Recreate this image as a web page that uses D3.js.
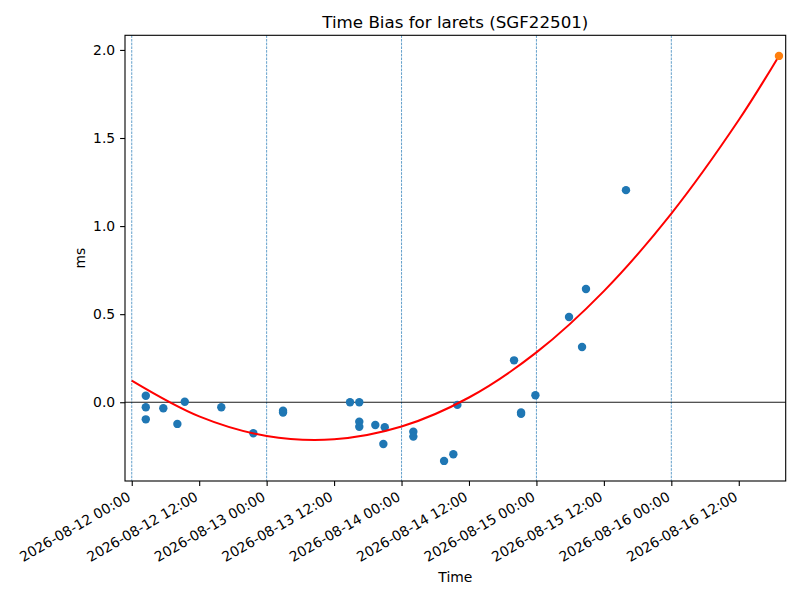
<!DOCTYPE html>
<html>
<head>
<meta charset="utf-8">
<script src="https://cdn.jsdelivr.net/npm/d3@7"></script>
<style>
  body { margin: 0; background: #fff; }
  text { font-family: "DejaVu Sans", sans-serif; fill: #000; }
</style>
</head>
<body>
<div id="container"></div>
<script>
// Measured time bias samples (UTC) and values in ms
const sampleTimes = [
    '2026-08-12 02:30', '2026-08-12 02:30', '2026-08-12 02:30',
    '2026-08-12 05:37', '2026-08-12 08:07', '2026-08-12 09:26',
    '2026-08-12 15:56', '2026-08-12 21:38', '2026-08-13 02:55',
    '2026-08-13 02:55', '2026-08-13 14:50', '2026-08-13 16:29',
    '2026-08-13 16:29', '2026-08-13 16:29', '2026-08-13 19:20',
    '2026-08-13 21:01', '2026-08-13 20:46', '2026-08-14 02:06',
    '2026-08-14 02:06', '2026-08-14 07:34', '2026-08-14 09:13',
    '2026-08-14 09:56', '2026-08-14 20:01', '2026-08-14 21:16',
    '2026-08-14 21:16', '2026-08-14 23:49', '2026-08-15 05:48',
    '2026-08-15 08:07', '2026-08-15 08:49', '2026-08-15 15:56'
];
const sampleValues = [
    0.037, -0.028, -0.097,
    -0.034, -0.123, 0.003,
    -0.028, -0.176, -0.048,
    -0.058, 0.000, 0.000,
    -0.110, -0.139, -0.129,
    -0.142, -0.237, -0.167,
    -0.195, -0.333, -0.295,
    -0.015, 0.238, -0.058,
    -0.066, 0.040, 0.484,
    0.314, 0.643, 1.204
];

// Fitted curve
const fitTimes = [
    '2026-08-12 00:00', '2026-08-12 12:00', '2026-08-13 00:00',
    '2026-08-13 12:00', '2026-08-14 00:00', '2026-08-14 12:00',
    '2026-08-15 00:00', '2026-08-15 12:00', '2026-08-16 00:00',
    '2026-08-16 12:00', '2026-08-16 19:09'
];
const fitValues = [0.123, -0.080, -0.191, -0.210, -0.138, 0.027, 0.283, 0.631, 1.071, 1.602, 1.966];

// Predicted point at the end of the fit
const predTime = '2026-08-16 19:09';
const predValue = 1.966;

// Midnight markers and tick labels
const dayLines = ['2026-08-12 00:00', '2026-08-13 00:00', '2026-08-14 00:00', '2026-08-15 00:00', '2026-08-16 00:00'];
const xTickLabels = [
    '2026-08-12 00:00', '2026-08-12 12:00', '2026-08-13 00:00', '2026-08-13 12:00',
    '2026-08-14 00:00', '2026-08-14 12:00', '2026-08-15 00:00', '2026-08-15 12:00',
    '2026-08-16 00:00', '2026-08-16 12:00'
];
const yTicks = [0.0, 0.5, 1.0, 1.5, 2.0];
const xLimits = ['2026-08-11 22:48', '2026-08-16 20:21'];
const yLimits = [-0.447, 2.083];

window.addEventListener('DOMContentLoaded', (event) => {

    const parse = d3.utcParse('%Y-%m-%d %H:%M');
    const fmt = d3.utcFormat('%Y-%m-%d %H:%M');

    const width = 800, height = 600;
    const margin = { left: 125, right: 14.3, top: 35.3, bottom: 119 };

    const svg = d3.select('#container')
        .append('svg')
        .attr('width', width)
        .attr('height', height);

    const x = d3.scaleUtc()
        .domain(xLimits.map(parse))
        .range([margin.left, width - margin.right]);

    const y = d3.scaleLinear()
        .domain(yLimits)
        .range([height - margin.bottom, margin.top]);

    const plot = svg.append('g');

    // dashed lines at each midnight
    plot.selectAll('line.day')
        .data(dayLines)
        .enter()
        .append('line')
        .attr('class', 'day')
        .attr('x1', d => x(parse(d)))
        .attr('x2', d => x(parse(d)))
        .attr('y1', margin.top)
        .attr('y2', height - margin.bottom)
        .attr('stroke', '#1f77b4')
        .attr('stroke-width', 0.7)
        .attr('stroke-dasharray', '2.6,1.1');

    // zero line
    plot.append('line')
        .attr('x1', margin.left)
        .attr('x2', width - margin.right)
        .attr('y1', y(0))
        .attr('y2', y(0))
        .attr('stroke', '#000')
        .attr('stroke-width', 0.9);

    // samples
    plot.selectAll('circle.sample')
        .data(sampleTimes.map((t, i) => ({ t: parse(t), v: sampleValues[i] })))
        .enter()
        .append('circle')
        .attr('class', 'sample')
        .attr('cx', d => x(d.t))
        .attr('cy', d => y(d.v))
        .attr('r', 4.2)
        .attr('fill', '#1f77b4');

    // fit curve
    const line = d3.line()
        .x(d => x(d.t))
        .y(d => y(d.v))
        .curve(d3.curveCatmullRom.alpha(0.5));

    plot.append('path')
        .datum(fitTimes.map((t, i) => ({ t: parse(t), v: fitValues[i] })))
        .attr('d', line)
        .attr('fill', 'none')
        .attr('stroke', '#ff0000')
        .attr('stroke-width', 2);

    // predicted point
    plot.append('circle')
        .attr('cx', x(parse(predTime)))
        .attr('cy', y(predValue))
        .attr('r', 4.2)
        .attr('fill', '#ff7f0e');

    // x axis
    const xAxis = svg.append('g')
        .attr('transform', `translate(0,${height - margin.bottom})`)
        .call(d3.axisBottom(x)
            .tickValues(xTickLabels.map(parse))
            .tickFormat(fmt)
            .tickSize(4.9)
            .tickSizeOuter(0));

    xAxis.select('.domain').remove();
    xAxis.selectAll('.tick line').attr('stroke', '#000').attr('stroke-width', 1.1);
    xAxis.selectAll('.tick text')
        .attr('font-size', 13.9)
        .attr('font-family', '"DejaVu Sans", sans-serif')
        .attr('text-anchor', 'end')
        .attr('y', 0)
        .attr('dy', '0.76em')
        .attr('transform', 'translate(-6,9.5) rotate(-30)');

    // y axis
    const yAxis = svg.append('g')
        .attr('transform', `translate(${margin.left},0)`)
        .call(d3.axisLeft(y)
            .tickValues(yTicks)
            .tickFormat(d3.format('.1f'))
            .tickSize(4.9)
            .tickPadding(4.9)
            .tickSizeOuter(0));

    yAxis.select('.domain').remove();
    yAxis.selectAll('.tick line').attr('stroke', '#000').attr('stroke-width', 1.1);
    yAxis.selectAll('.tick text')
        .attr('font-size', 13.9)
        .attr('font-family', '"DejaVu Sans", sans-serif');

    // frame
    svg.append('rect')
        .attr('x', margin.left)
        .attr('y', margin.top)
        .attr('width', width - margin.left - margin.right)
        .attr('height', height - margin.top - margin.bottom)
        .attr('fill', 'none')
        .attr('stroke', '#000')
        .attr('stroke-width', 1.1);

    // title and labels
    const cx = (margin.left + width - margin.right) / 2;

    svg.append('text')
        .attr('x', cx)
        .attr('y', 27.5)
        .attr('text-anchor', 'middle')
        .attr('font-size', 16.7)
        .text('Time Bias for larets (SGF22501)');

    svg.append('text')
        .attr('x', cx)
        .attr('y', 582)
        .attr('text-anchor', 'middle')
        .attr('font-size', 13.9)
        .text('Time');

    svg.append('text')
        .attr('transform', `translate(85,${(margin.top + height - margin.bottom) / 2}) rotate(-90)`)
        .attr('text-anchor', 'middle')
        .attr('font-size', 13.9)
        .text('ms');

}); // end of document ready
</script>
</body>
</html>
